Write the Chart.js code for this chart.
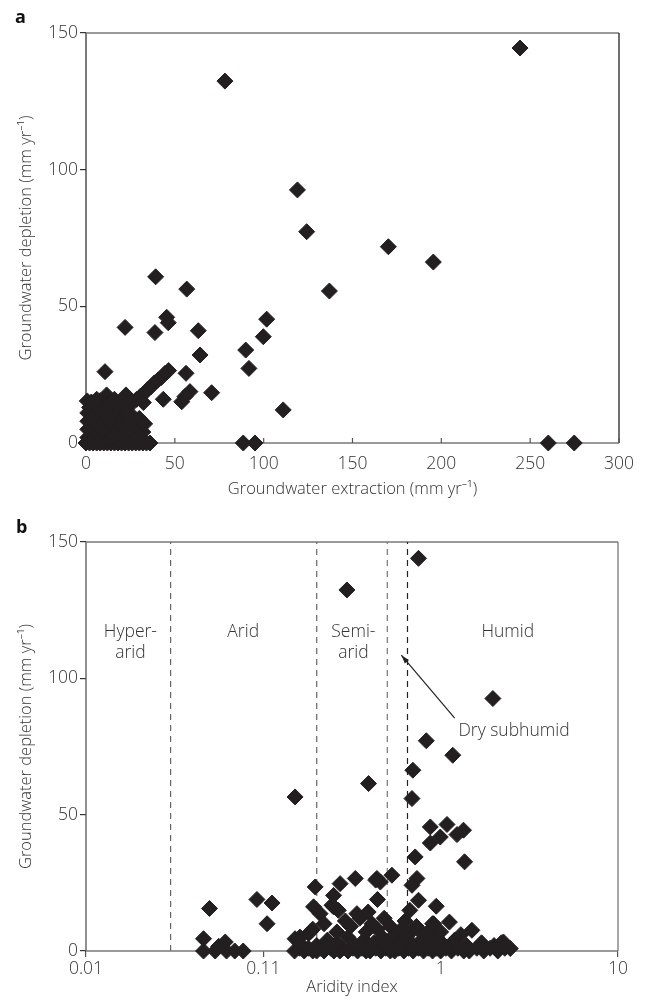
<!DOCTYPE html>
<html>
<head>
  <title>Groundwater depletion vs extraction and aridity</title>
  <script src="https://cdn.jsdelivr.net/npm/chart.js"></script>
  <style>
    body { margin: 0; background: #fff; }
    canvas { display: block; }
  </style>
</head>
<body>
  <canvas id="extractionChart" width="646" height="500"></canvas>
  <canvas id="aridityChart" width="646" height="500"></canvas>
<script>
// panel a: groundwater extraction (mm/yr) vs depletion (mm/yr)
const extractionX = [
  244.3, 78.2, 119, 124.2, 170.2, 195.5, 137, 260.2, 274.8,
  39.2, 56.7, 45.4, 46.3, 22, 38.8, 63.2, 101.7, 99.8, 89.9, 91.7, 64.2, 10.7, 56.3,
  46.5, 44.5, 42.5, 40.5, 38.5, 36.5, 34.5, 32.5, 30.5, 28.5, 26,
  58.5, 55.7, 53.9, 70.7, 43.5, 32.3, 111, 88.5, 95.1, 11.6, 22.5, 0.7, 4, 8,
  0, 2, 4, 6, 8, 10, 12, 14, 16, 18, 20, 22, 24, 26, 28, 30, 32, 34, 36,
  1, 1, 1, 1, 2, 3, 3, 3, 4, 5, 5, 5, 5, 6, 7, 7, 7, 8, 9, 9, 9, 10, 10, 11, 12, 12,
  13, 13, 14, 15, 15, 16, 17, 17, 18, 19, 20, 20, 21, 22, 23, 24, 24, 26, 26, 28, 29,
  30, 32, 33, 3, 6, 14, 18, 20, 16, 23
];
const extractionDepletion = [
  144.5, 132.4, 92.6, 77.3, 71.8, 66.2, 55.6, 0, 0,
  60.8, 56.3, 46, 44, 42.3, 40.4, 41.1, 45.3, 38.9, 34, 27.3, 32.2, 26.1, 25.5,
  26.5, 25.5, 24, 23, 22, 20.5, 19.5, 18, 17, 16, 14.5,
  18.8, 17, 15.1, 18.4, 16, 14.8, 12.1, 0, 0, 17.6, 17.6, 15.4, 14.5, 15.5,
  0, 0, 0, 0, 0, 0, 0, 0, 0, 0, 0, 0, 0, 0, 0, 0, 0, 0, 0,
  2, 5, 8, 11, 13, 3, 6, 9, 12, 2, 5, 8, 14, 10, 3, 6, 12, 9, 2, 5, 14, 7, 11, 3, 9, 13,
  5, 1, 11, 7, 3, 13, 9, 5, 1, 11, 3, 7, 9, 5, 11, 2, 8, 4, 10, 6, 2,
  9, 4, 7, 15, 16, 15, 14, 15, 16, 11
];

// panel b: aridity index vs depletion (mm/yr)
const aridityX = [
  0.75, 0.296, 1.97, 0.83, 1.17, 0.697, 0.392, 0.689, 0.151,
  0.874, 1.086, 1.345, 1.236, 0.995, 0.874, 1.364, 0.718, 0.735, 0.689, 0.531,
  0.437, 0.33, 0.457, 0.44, 0.75, 0.944, 0.67, 0.912, 1.12, 1.5, 2.26, 2.47,
  0.196, 0.271, 0.249, 0.192, 0.209, 0.249, 0.184, 0.151,
  0.0497, 0.092, 0.112, 0.105, 0.046, 0.046, 0.0535, 0.061, 0.062, 0.069, 0.077, 0.056,
  0.265, 0.337, 0.39, 0.161, 0.18, 0.244, 0.43,
  0.15, 0.16, 0.17, 0.18, 0.19, 0.2, 0.21, 0.22, 0.24, 0.25, 0.27, 0.28, 0.3, 0.32,
  0.34, 0.36, 0.38, 0.4, 0.43, 0.46, 0.49, 0.52, 0.55, 0.58, 0.62, 0.66, 0.7, 0.75,
  0.8, 0.85, 0.9, 0.95, 1.0, 1.07, 1.15, 1.25, 1.35, 1.45, 1.6, 1.75, 1.9, 2.1, 2.3,
  0.16, 0.2, 0.23, 0.26, 0.3, 0.33, 0.37, 0.42, 0.47, 0.5, 0.56, 0.6, 0.64, 0.7,
  0.78, 0.86, 0.95, 1.05, 1.2, 1.4, 1.7, 2.0, 2.2,
  0.19, 0.22, 0.26, 0.29, 0.31, 0.35, 0.38, 0.41, 0.44, 0.48, 0.52, 0.55, 0.6,
  0.63, 0.68, 0.73, 0.8, 0.88, 1.0, 1.3, 0.9
];
const aridityDepletion = [
  144, 132.4, 92.6, 77.1, 71.8, 66.3, 61.4, 55.9, 56.5,
  45.5, 46.4, 44.3, 42.7, 41.8, 39.6, 32.7, 34.5, 26.6, 24.1, 27.8,
  26.6, 26.6, 25.3, 18.9, 18.6, 16.4, 14.9, 10, 10.6, 7.6, 3.3, 0.9,
  23.5, 24.7, 20.4, 16.2, 13.7, 16.2, 7, 4.5,
  15.6, 18.9, 17.6, 10, 4.5, 0, 0, 3.3, 0, 0, 0, 1.7,
  14.9, 13.7, 14.3, 5.1, 6.4, 16.8, 26,
  0, 1, 0, 1, 0, 0, 1, 0, 1, 0, 0, 1, 0, 1,
  0, 1, 0, 0, 1, 0, 1, 0, 0, 1, 0, 1, 0, 1,
  0, 1, 0, 1, 0, 1, 0, 1, 0, 0, 1, 0, 1, 0, 1,
  3, 2, 4, 3, 5, 2, 4, 3, 5, 2, 4, 3, 5, 2,
  4, 3, 5, 2, 4, 2, 3, 2, 3,
  8, 10, 7, 11, 9, 12, 7, 10, 8, 12, 9, 6, 8,
  11, 7, 9, 6, 8, 7, 6, 10
];

const extractionTicks = [0, 50, 100, 150, 200, 250, 300];
const depletionTicks = [0, 50, 100, 150];
const aridityTickValues = [0.01, 0.1, 1, 10];
const aridityTickLabels = ['0.01', '0.11', '1', '10'];
const zoneBounds = [0.03, 0.2, 0.5, 0.65];
const zoneNames = [['Hyper-', 'arid'], ['Arid'], ['Semi-', 'arid'], ['Humid']];

const markColor = '#231f20';
const textColor = '#333333';
const fontFamily = '"Open Sans", "Noto Sans", "DejaVu Sans", sans-serif';
Chart.defaults.font.family = fontFamily;
Chart.defaults.font.weight = 300;
Chart.defaults.color = textColor;

function pairs(xs, ys) {
  return xs.map((x, i) => ({ x: x, y: ys[i] }));
}

function drawFrame(ctx, area, colors) {
  ctx.save();
  ctx.lineWidth = 1.3;
  const sides = [
    [area.left, area.bottom, area.left, area.top, colors[0]],
    [area.left, area.top, area.right, area.top, colors[1]],
    [area.right, area.top, area.right, area.bottom, colors[2]],
    [area.left, area.bottom, area.right, area.bottom, colors[3]]
  ];
  sides.forEach(s => {
    ctx.strokeStyle = s[4];
    ctx.beginPath();
    ctx.moveTo(s[0], s[1]);
    ctx.lineTo(s[2], s[3]);
    ctx.stroke();
  });
  ctx.restore();
}

function panelLabel(ctx, text, x, y) {
  ctx.save();
  ctx.font = 'bold 18px ' + fontFamily;
  ctx.fillStyle = '#111';
  ctx.textBaseline = 'alphabetic';
  ctx.fillText(text, x, y);
  ctx.restore();
}

const scatterStyle = {
  pointStyle: 'rectRot',
  pointRadius: 8,
  pointHoverRadius: 8,
  backgroundColor: markColor,
  borderColor: markColor,
  borderWidth: 1,
  clip: false,
  order: 0
};

const tickFont = { size: 17.5, weight: 300 };
const titleFont = { size: 16.5, weight: 300 };

// ---------- panel a ----------
const framePluginA = {
  id: 'frameA',
  beforeDatasetsDraw(chart) {
    const ctx = chart.ctx;
    const area = chart.chartArea;
    drawFrame(ctx, area, ['#333', '#777', '#222', '#777']);
    // inward x ticks
    const xs = chart.scales.x;
    ctx.save();
    ctx.strokeStyle = '#555';
    ctx.lineWidth = 1.2;
    xs.ticks.forEach(t => {
      const px = xs.getPixelForValue(t.value);
      ctx.beginPath();
      ctx.moveTo(px, area.bottom);
      ctx.lineTo(px, area.bottom - 5);
      ctx.stroke();
    });
    ctx.restore();
    panelLabel(ctx, 'a', 15, 23);
  }
};

new Chart(document.getElementById('extractionChart'), {
  type: 'scatter',
  data: {
    datasets: [Object.assign({ data: pairs(extractionX, extractionDepletion) }, scatterStyle)]
  },
  options: {
    responsive: false,
    animation: false,
    devicePixelRatio: 1,
    layout: { padding: { left: 0, top: 33, right: 27, bottom: 0 } },
    plugins: { legend: { display: false }, tooltip: { enabled: false } },
    scales: {
      x: {
        type: 'linear', min: 0, max: 300,
        afterBuildTicks: s => { s.ticks = extractionTicks.map(v => ({ value: v })); },
        afterFit: s => { s.height = 57; },
        grid: { display: false },
        border: { display: false },
        ticks: { padding: 3, font: tickFont, color: textColor },
        title: { display: true, text: 'Groundwater extraction (mm yr\u207B\u00B9)', font: titleFont, color: textColor, padding: { top: 0, bottom: 0.4 } }
      },
      y: {
        type: 'linear', min: 0, max: 150,
        afterBuildTicks: s => { s.ticks = depletionTicks.map(v => ({ value: v })); },
        afterFit: s => { s.width = 86; },
        grid: { drawOnChartArea: false, drawTicks: true, tickLength: 6, color: '#333', lineWidth: 1.2 },
        border: { display: false },
        ticks: { padding: 2, font: tickFont, color: textColor },
        title: { display: true, text: 'Groundwater depletion (mm yr\u207B\u00B9)', font: titleFont, color: textColor, padding: { top: 16, bottom: 0 } }
      }
    }
  },
  plugins: [framePluginA]
});

// ---------- panel b ----------
const annotPluginB = {
  id: 'annotB',
  beforeDatasetsDraw(chart) {
    drawFrame(chart.ctx, chart.chartArea, ['#555', '#777', '#777', '#777']);
    panelLabel(chart.ctx, 'b', 16, 33);
  },
  afterDatasetsDraw(chart) {
    const ctx = chart.ctx;
    const xs = chart.scales.x;
    const ys = chart.scales.y;
    const labelAt = [[0.0178, 117], [0.077, 117], [0.322, 117], [2.39, 117]];
    ctx.save();
    ctx.fillStyle = textColor;
    ctx.font = '300 17.5px ' + fontFamily;
    ctx.textAlign = 'center';
    ctx.textBaseline = 'middle';
    zoneNames.forEach((lines, i) => {
      const px = xs.getPixelForValue(labelAt[i][0]);
      const py = ys.getPixelForValue(labelAt[i][1]);
      lines.forEach((ln, j) => ctx.fillText(ln, px, py + j * 21));
    });
    // Dry subhumid callout
    ctx.textAlign = 'left';
    ctx.fillText('Dry subhumid', xs.getPixelForValue(1.26), ys.getPixelForValue(80.6));
    const x0 = xs.getPixelForValue(1.2), y0 = ys.getPixelForValue(85.4);
    const x1 = xs.getPixelForValue(0.6), y1 = ys.getPixelForValue(108.5);
    ctx.strokeStyle = '#222';
    ctx.fillStyle = '#222';
    ctx.lineWidth = 1.2;
    ctx.beginPath();
    ctx.moveTo(x0, y0);
    ctx.lineTo(x1, y1);
    ctx.stroke();
    const ang = Math.atan2(y1 - y0, x1 - x0);
    ctx.beginPath();
    ctx.moveTo(x1, y1);
    ctx.lineTo(x1 - 9 * Math.cos(ang - 0.3), y1 - 9 * Math.sin(ang - 0.3));
    ctx.lineTo(x1 - 9 * Math.cos(ang + 0.3), y1 - 9 * Math.sin(ang + 0.3));
    ctx.closePath();
    ctx.fill();
    ctx.restore();
  }
};

const zoneLineColors = ['#666', '#666', '#777', '#222'];
const zoneLines = zoneBounds.map((b, i) => ({
  data: [{ x: b, y: 0 }, { x: b, y: 150 }],
  showLine: true,
  pointRadius: 0,
  borderColor: zoneLineColors[i],
  borderWidth: 1.2,
  borderDash: [6, 5],
  order: 1
}));

new Chart(document.getElementById('aridityChart'), {
  type: 'scatter',
  data: {
    datasets: [Object.assign({ data: pairs(aridityX, aridityDepletion) }, scatterStyle)].concat(zoneLines)
  },
  options: {
    responsive: false,
    animation: false,
    devicePixelRatio: 1,
    layout: { padding: { left: 0, top: 42, right: 28, bottom: 0 } },
    plugins: { legend: { display: false }, tooltip: { enabled: false } },
    scales: {
      x: {
        type: 'logarithmic', min: 0.01, max: 10,
        afterBuildTicks: s => { s.ticks = aridityTickValues.map(v => ({ value: v })); },
        afterFit: s => { s.height = 49; },
        grid: { drawOnChartArea: false, drawTicks: true, tickLength: 6, color: '#555', lineWidth: 1.2 },
        border: { display: false },
        ticks: {
          padding: 2, font: tickFont, color: textColor, maxRotation: 0, autoSkip: false,
          callback: (v) => aridityTickLabels[aridityTickValues.indexOf(v)] || ''
        },
        title: { display: true, text: 'Aridity index', font: titleFont, color: textColor, padding: { top: 0, bottom: 2.4 } }
      },
      y: {
        type: 'linear', min: 0, max: 150,
        afterBuildTicks: s => { s.ticks = depletionTicks.map(v => ({ value: v })); },
        afterFit: s => { s.width = 86; },
        grid: { drawOnChartArea: false, drawTicks: true, tickLength: 6, color: '#333', lineWidth: 1.2 },
        border: { display: false },
        ticks: { padding: 2, font: tickFont, color: textColor },
        title: { display: true, text: 'Groundwater depletion (mm yr\u207B\u00B9)', font: titleFont, color: textColor, padding: { top: 16, bottom: 0 } }
      }
    }
  },
  plugins: [annotPluginB]
});
</script>
</body>
</html>
